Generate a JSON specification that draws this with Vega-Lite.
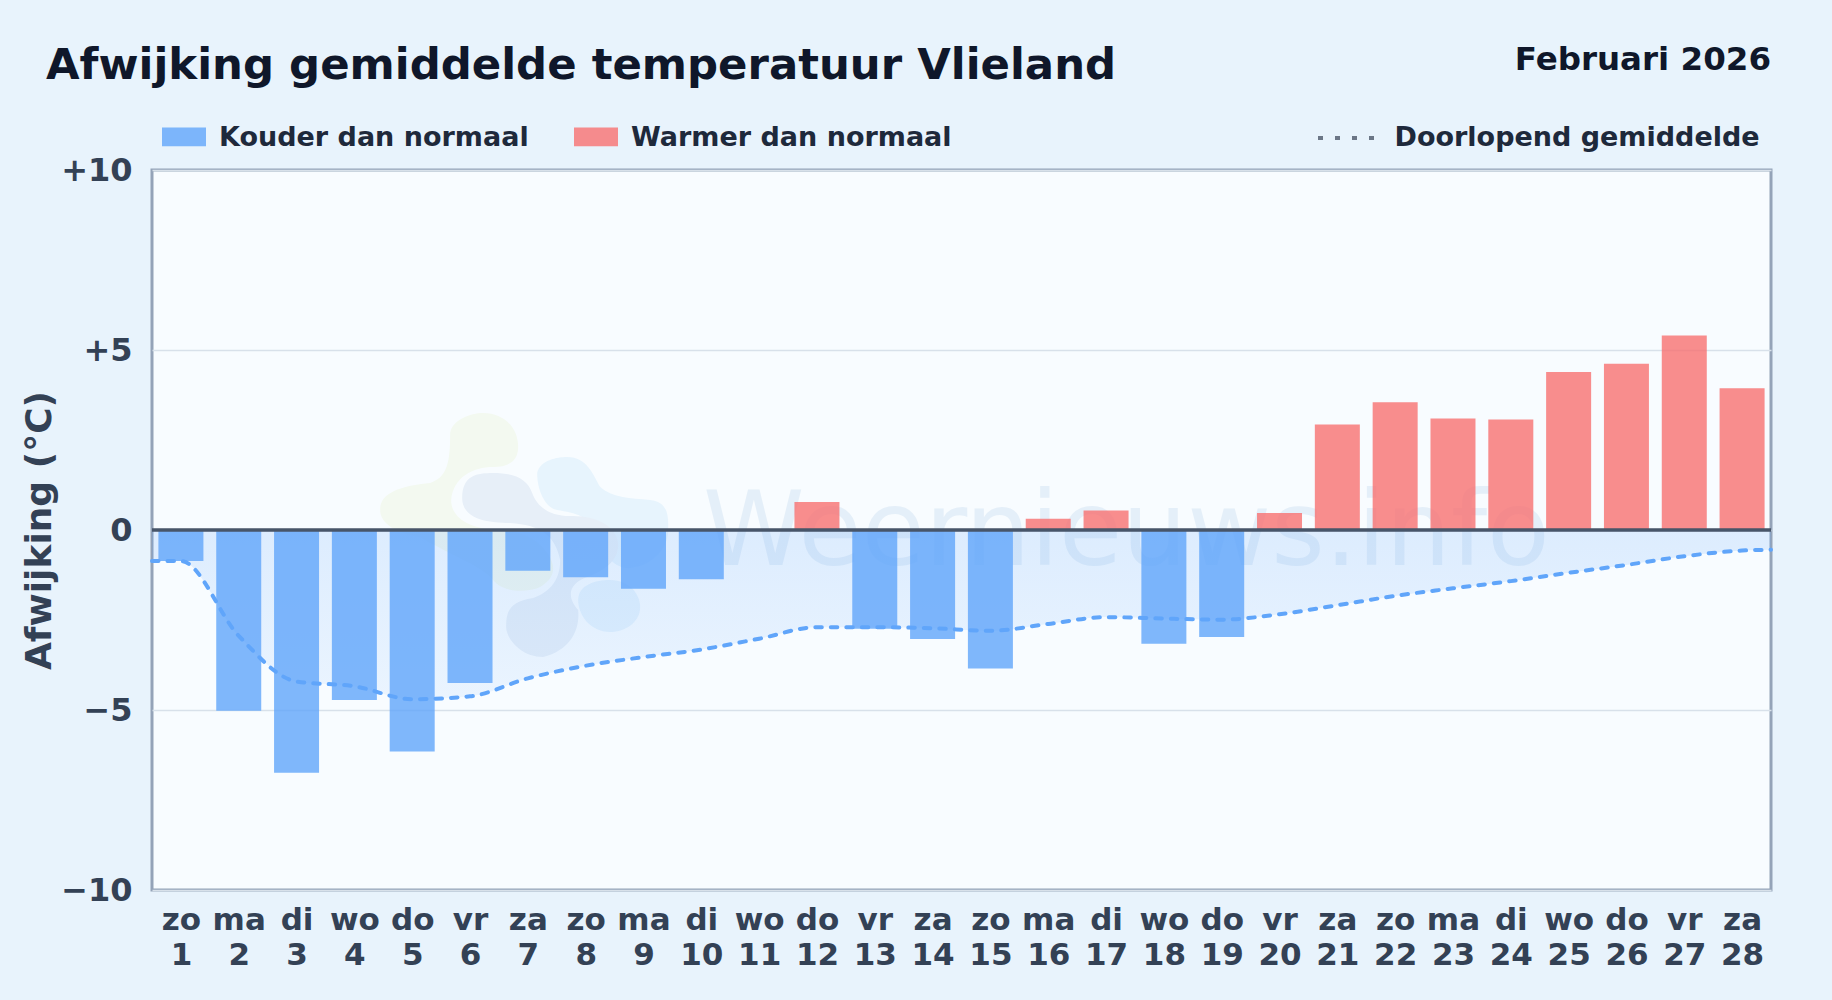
{
"$schema":"https://vega.github.io/schema/vega-lite/v6.json",
"width":1619,"height":720,
"autosize":"none",
"padding":{"left":152,"top":170,"right":61,"bottom":110},
"background":"#e8f3fc",
"title":{"text":"Afwijking gemiddelde temperatuur Vlieland","anchor":"start","frame":"group","dx":-106,"offset":-44.5,"font":"DejaVu Sans","fontSize":43.4,"fontWeight":"bold","color":"#0f172a"},
"config":{"font":"DejaVu Sans","view":{"fill":"#f8fcff","stroke":"#94a3b8","strokeWidth":3}},
"datasets":{
"dagen":[
{"dag":1,"afwijking":-0.86,"soort":"Kouder dan normaal"},
{"dag":2,"afwijking":-5.02,"soort":"Kouder dan normaal"},
{"dag":3,"afwijking":-6.74,"soort":"Kouder dan normaal"},
{"dag":4,"afwijking":-4.72,"soort":"Kouder dan normaal"},
{"dag":5,"afwijking":-6.15,"soort":"Kouder dan normaal"},
{"dag":6,"afwijking":-4.25,"soort":"Kouder dan normaal"},
{"dag":7,"afwijking":-1.13,"soort":"Kouder dan normaal"},
{"dag":8,"afwijking":-1.31,"soort":"Kouder dan normaal"},
{"dag":9,"afwijking":-1.63,"soort":"Kouder dan normaal"},
{"dag":10,"afwijking":-1.37,"soort":"Kouder dan normaal"},
{"dag":11,"afwijking":0,"soort":"Kouder dan normaal"},
{"dag":12,"afwijking":0.78,"soort":"Warmer dan normaal"},
{"dag":13,"afwijking":-2.74,"soort":"Kouder dan normaal"},
{"dag":14,"afwijking":-3.03,"soort":"Kouder dan normaal"},
{"dag":15,"afwijking":-3.85,"soort":"Kouder dan normaal"},
{"dag":16,"afwijking":0.31,"soort":"Warmer dan normaal"},
{"dag":17,"afwijking":0.54,"soort":"Warmer dan normaal"},
{"dag":18,"afwijking":-3.16,"soort":"Kouder dan normaal"},
{"dag":19,"afwijking":-2.97,"soort":"Kouder dan normaal"},
{"dag":20,"afwijking":0.47,"soort":"Warmer dan normaal"},
{"dag":21,"afwijking":2.93,"soort":"Warmer dan normaal"},
{"dag":22,"afwijking":3.55,"soort":"Warmer dan normaal"},
{"dag":23,"afwijking":3.10,"soort":"Warmer dan normaal"},
{"dag":24,"afwijking":3.07,"soort":"Warmer dan normaal"},
{"dag":25,"afwijking":4.39,"soort":"Warmer dan normaal"},
{"dag":26,"afwijking":4.62,"soort":"Warmer dan normaal"},
{"dag":27,"afwijking":5.40,"soort":"Warmer dan normaal"},
{"dag":28,"afwijking":3.94,"soort":"Warmer dan normaal"}],
"gemiddelde":[
{"dag":0.5,"gem":-0.86},{"dag":1,"gem":-0.86},{"dag":2,"gem":-2.94},{"dag":3,"gem":-4.21},{"dag":4,"gem":-4.34},{"dag":5,"gem":-4.70},{"dag":6,"gem":-4.62},{"dag":7,"gem":-4.12},{"dag":8,"gem":-3.77},{"dag":9,"gem":-3.53},{"dag":10,"gem":-3.32},{"dag":11,"gem":-3.02},{"dag":12,"gem":-2.70},{"dag":13,"gem":-2.70},{"dag":14,"gem":-2.73},{"dag":15,"gem":-2.80},{"dag":16,"gem":-2.61},{"dag":17,"gem":-2.42},{"dag":18,"gem":-2.46},{"dag":19,"gem":-2.49},{"dag":20,"gem":-2.34},{"dag":21,"gem":-2.09},{"dag":22,"gem":-1.83},{"dag":23,"gem":-1.62},{"dag":24,"gem":-1.42},{"dag":25,"gem":-1.19},{"dag":26,"gem":-0.97},{"dag":27,"gem":-0.73},{"dag":28,"gem":-0.57},{"dag":28.5,"gem":-0.55}],
"logo":[{"naam":"Weernieuws.info logo"}]
},
"layer":[
{"data":{"name":"logo"},"mark":{"type":"point","filled":true,"opacity":1,"size":4,"fill":"#f3f9f0","shape":"M-110,-97C-108,-110 -90,-117 -77,-117C-57,-117 -42,-103 -42,-83C-42,-68 -53,-63 -67,-63C-87,-63 -107,-53 -109,-30C-109,-13 -93,-3 -67,0C-43,0 -27,7 -18,17C-3,33 -3,47 -20,57C-33,63 -57,63 -67,50C-80,35 -110,25 -140,7C-165,3 -180,-7 -180,-20C-180,-33 -170,-43 -130,-47C-113,-53 -110,-67 -110,-97Z"},
 "encoding":{"x":{"datum":7.559,"type":"quantitative","scale":{"domain":[0.5,28.5],"nice":false,"zero":false,"padding":0},
   "axis":{"values":[1,2,3,4,5,6,7,8,9,10,11,12,13,14,15,16,17,18,19,20,21,22,23,24,25,26,27,28],"title":null,"grid":false,"domain":false,"ticks":false,"labelFont":"DejaVu Sans","labelFontSize":31,"labelFontWeight":"bold","labelColor":"#334155","labelPadding":15,"labelLineHeight":35,"labelOverlap":false,"labelFlush":false,"labelBound":false,"labelExpr":"[['za','zo','ma','di','wo','do','vr'][datum.value%7],''+datum.value]"}},
  "y":{"datum":0,"type":"quantitative","scale":{"domain":[-10,10],"nice":false,"zero":false},
   "axis":{"values":[-10,-5,0,5,10],"title":"Afwijking (°C)","titleFont":"DejaVu Sans","titleFontSize":36,"titleFontWeight":"bold","titleColor":"#334155","titlePadding":2,"grid":true,"gridColor":"#d8e1ea","gridWidth":1.5,"domain":false,"ticks":false,"labelFont":"DejaVu Sans","labelFontSize":32,"labelFontWeight":"bold","labelColor":"#334155","labelPadding":20,"labelOverlap":false,"labelFlush":false,"labelBound":false,"labelExpr":"datum.value>0?'+'+datum.value:(datum.value<0?'−'+abs(datum.value):'0')"}}}},
{"data":{"name":"logo"},"mark":{"type":"point","filled":true,"opacity":1,"size":4,"fill":"#e7f4fd","shape":"M-23,-57C-20,-70 -3,-73 7,-73C27,-73 33,-55 40,-43C53,-32 70,-32 90,-30C110,-28 108,-10 108,0C108,20 90,35 75,37C60,42 45,30 40,10C30,-15 15,-17 -3,-20C-15,-22 -23,-40 -23,-57Z"},
 "encoding":{"x":{"datum":7.559,"type":"quantitative"},"y":{"datum":0,"type":"quantitative"}}},
{"data":{"name":"logo"},"mark":{"type":"point","filled":true,"opacity":1,"size":4,"fill":"#e6f3fd","shape":"M18,70C18,55 35,50 50,50C70,50 80,65 80,77C80,92 65,102 50,102C30,102 18,85 18,70Z"},
 "encoding":{"x":{"datum":7.559,"type":"quantitative"},"y":{"datum":0,"type":"quantitative"}}},
{"data":{"name":"logo"},"mark":{"type":"point","filled":true,"opacity":1,"size":4,"fill":"#e7eff8","shape":"M-98,-32C-98,-55 -83,-57 -67,-57C-47,-57 -33,-52 -28,-37C-23,-23 -10,-13 13,-14C37,-14 58,-3 58,15C58,33 40,42 27,47C10,53 5,65 18,80C20,100 10,120 -17,127C-40,127 -54,108 -54,97C-54,80 -50,72 -27,68C-10,62 0,50 0,30C-5,5 -20,-5 -50,-7C-75,-7 -98,-12 -98,-32Z"},
 "encoding":{"x":{"datum":7.559,"type":"quantitative"},"y":{"datum":0,"type":"quantitative"}}},
{"data":{"values":[{"tekst":"Weernieuws.info"}]},"mark":{"type":"text","align":"left","baseline":"alphabetic","font":"DejaVu Sans","fontWeight":"normal","fontSize":102.7,"color":"#7aa9d8","opacity":0.15},
 "encoding":{"text":{"field":"tekst"},"x":{"datum":10.03,"type":"quantitative"},"y":{"datum":-0.97,"type":"quantitative"}}},
{"data":{"name":"gemiddelde"},
 "mark":{"type":"area","interpolate":"monotone","color":{"gradient":"linear","x1":0,"y1":0,"x2":0,"y2":1,"stops":[{"offset":0,"color":"rgba(96,165,250,0.18)"},{"offset":1,"color":"rgba(96,165,250,0.09)"}]}},
 "encoding":{"x":{"field":"dag","type":"quantitative"},"y":{"field":"gem","type":"quantitative"},"y2":{"datum":0}}},
{"data":{"name":"dagen"},
 "mark":{"type":"bar","size":45,"opacity":0.8},
 "encoding":{"x":{"field":"dag","type":"quantitative"},"y":{"field":"afwijking","type":"quantitative"},
  "color":{"field":"soort","type":"nominal","scale":{"domain":["Kouder dan normaal","Warmer dan normaal"],"range":["#60a5fa","#f87171"]},
   "legend":{"orient":"none","legendX":10,"legendY":-54,"direction":"horizontal","title":null,"symbolType":"M-1,-0.48H1V0.38H-1Z","symbolSize":1936,"symbolStrokeWidth":0,"labelFont":"DejaVu Sans","labelFontSize":27,"labelFontWeight":"bold","labelColor":"#1e293b","labelOffset":13,"columnPadding":45,"labelLimit":400}}}},
{"data":{"name":"gemiddelde"},
 "mark":{"type":"line","interpolate":"monotone","color":"#60a5fa","strokeWidth":4,"strokeCap":"round","strokeDash":[6.5,9]},
 "encoding":{"x":{"field":"dag","type":"quantitative"},"y":{"field":"gem","type":"quantitative"}}},
{"data":{"name":"logo"},
 "mark":{"type":"line","color":"#6b7686","strokeWidth":4},
 "encoding":{"x":{"datum":0.5,"type":"quantitative"},"y":{"datum":0,"type":"quantitative"},
  "strokeDash":{"datum":"Doorlopend gemiddelde","scale":{"domain":["Doorlopend gemiddelde"],"range":[[5,12]]},
   "legend":{"orient":"none","legendX":1164,"legendY":-62,"title":null,"symbolType":"stroke","symbolSize":3136,"symbolStrokeColor":"#6b7686","symbolStrokeWidth":4,"labelFont":"DejaVu Sans","labelFontSize":27,"labelFontWeight":"bold","labelColor":"#1e293b","labelOffset":18.5,"labelLimit":500}}}},
{"data":{"name":"logo"},"mark":{"type":"rule","color":"#475569","strokeWidth":3.7},
 "encoding":{"x":{"datum":0.5,"type":"quantitative"},"x2":{"datum":28.5},"y":{"datum":0,"type":"quantitative"}}},
{"data":{"values":[{"tekst":"Februari 2026"}]},"mark":{"type":"text","align":"right","baseline":"alphabetic","font":"DejaVu Sans","fontWeight":"bold","fontSize":32.5,"color":"#0f172a"},
 "encoding":{"text":{"field":"tekst"},"x":{"datum":28.5,"type":"quantitative"},"y":{"datum":12.78,"type":"quantitative"}}}
]
}
